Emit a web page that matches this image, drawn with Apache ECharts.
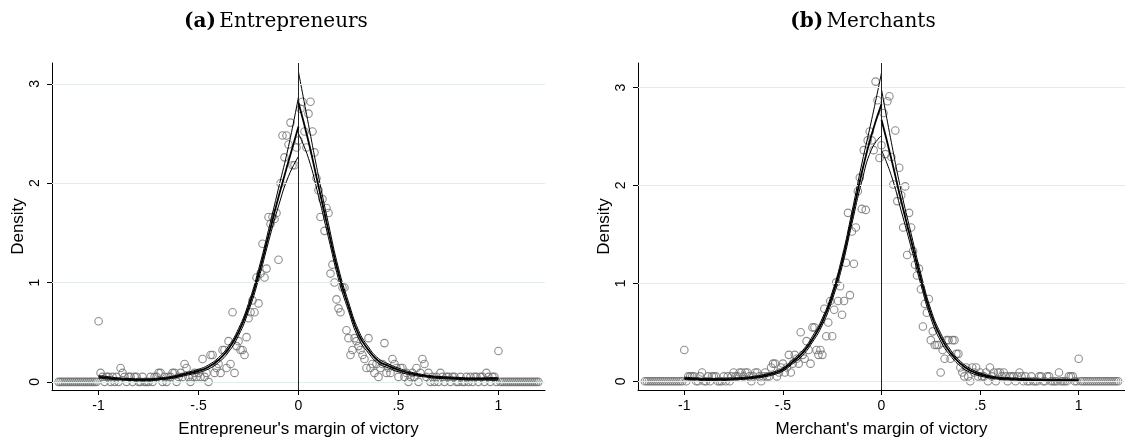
<!DOCTYPE html>
<html>
<head>
<meta charset="utf-8">
<script src="https://cdn.jsdelivr.net/npm/echarts@6/dist/echarts.min.js"></script>
<style>
html,body{margin:0;padding:0;background:#fff;}
#chart{width:1125px;height:443px;}
</style>
</head>
<body>
<div id="chart"></div>
<script>
// ---------------- DATA ----------------
var panelTitles = ['(a)', '(b)'];
var panelNames = ['Entrepreneurs', 'Merchants'];
var xAxisTitles = ["Entrepreneur's margin of victory", "Merchant's margin of victory"];
var yAxisTitle = 'Density';
var xTickValues = [-1, -0.5, 0, 0.5, 1];
var xTickLabels = ['-1', '-.5', '0', '.5', '1'];
var yTickValues = [0, 1, 2, 3];
var yTickLabels = ['0', '1', '2', '3'];

// bin centres of the histogram (circles)
var binX = [
-1.2,-1.19,-1.18,-1.17,-1.16,-1.15,-1.14,-1.13,-1.12,-1.11,
-1.1,-1.09,-1.08,-1.07,-1.06,-1.05,-1.04,-1.03,-1.02,-1.01,
-1.0,-0.99,-0.98,-0.97,-0.96,-0.95,-0.94,-0.93,-0.92,-0.91,
-0.9,-0.89,-0.88,-0.87,-0.86,-0.85,-0.84,-0.83,-0.82,-0.81,
-0.8,-0.79,-0.78,-0.77,-0.76,-0.75,-0.74,-0.73,-0.72,-0.71,
-0.7,-0.69,-0.68,-0.67,-0.66,-0.65,-0.64,-0.63,-0.62,-0.61,
-0.6,-0.59,-0.58,-0.57,-0.56,-0.55,-0.54,-0.53,-0.52,-0.51,
-0.5,-0.49,-0.48,-0.47,-0.46,-0.45,-0.44,-0.43,-0.42,-0.41,
-0.4,-0.39,-0.38,-0.37,-0.36,-0.35,-0.34,-0.33,-0.32,-0.31,
-0.3,-0.29,-0.28,-0.27,-0.26,-0.25,-0.24,-0.23,-0.22,-0.21,
-0.2,-0.19,-0.18,-0.17,-0.16,-0.15,-0.14,-0.13,-0.12,-0.11,
-0.1,-0.09,-0.08,-0.07,-0.06,-0.05,-0.04,-0.03,-0.02,-0.01,
0,0.01,0.02,0.03,0.04,0.05,0.06,0.07,0.08,0.09,
0.1,0.11,0.12,0.13,0.14,0.15,0.16,0.17,0.18,0.19,
0.2,0.21,0.22,0.23,0.24,0.25,0.26,0.27,0.28,0.29,
0.3,0.31,0.32,0.33,0.34,0.35,0.36,0.37,0.38,0.39,
0.4,0.41,0.42,0.43,0.44,0.45,0.46,0.47,0.48,0.49,
0.5,0.51,0.52,0.53,0.54,0.55,0.56,0.57,0.58,0.59,
0.6,0.61,0.62,0.63,0.64,0.65,0.66,0.67,0.68,0.69,
0.7,0.71,0.72,0.73,0.74,0.75,0.76,0.77,0.78,0.79,
0.8,0.81,0.82,0.83,0.84,0.85,0.86,0.87,0.88,0.89,
0.9,0.91,0.92,0.93,0.94,0.95,0.96,0.97,0.98,0.99,
1.0,
1.01,1.02,1.03,1.04,1.05,1.06,1.07,1.08,1.09,1.1,
1.11,1.12,1.13,1.14,1.15,1.16,1.17,1.18,1.19,1.2
];

// histogram density, panel (a) Entrepreneurs
var densEntrepreneurs = [
0,0,0,0,0,0,0,0,0,0,
0,0,0,0,0,0,0,0,0,0,
0.61,0.09,0.05,0,0.05,0.05,0,0.05,0,0.05,
0,0.14,0.09,0.05,0,0.05,0.05,0,0.05,0.05,
0,0,0.05,0,0,0,0.05,0,0.05,0.05,
0.09,0.09,0,0.05,0,0.05,0.05,0.09,0.09,0,
0.05,0.09,0.05,0.18,0.14,0.05,0,0.05,0.09,0.05,
0.09,0.05,0.23,0.05,0.09,0,0.27,0.27,0.09,0.14,
0.18,0.09,0.32,0.32,0.14,0.41,0.18,0.70,0.09,0.36,
0.41,0.32,0.32,0.27,0.45,0.64,0.70,0.82,0.70,1.05,
0.79,1.09,1.39,1.05,1.14,1.66,1.59,1.66,1.64,1.70,
1.23,2.00,2.48,2.26,2.48,2.39,2.61,2.18,2.18,2.36,
2.43,2.75,2.82,2.52,2.36,2.70,2.82,2.52,2.31,2.05,
1.93,1.66,1.84,1.52,1.75,1.70,1.09,1.18,1.00,0.83,
0.74,0.70,0.95,0.95,0.52,0.44,0.27,0.32,0.44,0.41,
0.36,0.32,0.27,0.23,0.14,0.44,0.14,0.18,0.09,0.18,
0.05,0.14,0.18,0.39,0.09,0.14,0.09,0.23,0.18,0.14,
0.05,0.14,0.14,0.05,0.09,0,0.05,0.09,0.05,0.14,
0,0.09,0.23,0.18,0.05,0.09,0,0.05,0,0.05,
0,0.09,0.05,0,0.05,0.05,0,0.05,0.05,0,
0,0.05,0,0,0.05,0,0.05,0,0.05,0.05,
0,0.05,0.05,0,0.09,0.05,0,0.05,0.05,0,
0.31,
0,0,0,0,0,0,0,0,0,0,
0,0,0,0,0,0,0,0,0,0
];

// histogram density, panel (b) Merchants
var densMerchants = [
0,0,0,0,0,0,0,0,0,0,
0,0,0,0,0,0,0,0,0,0,
0.32,0,0.05,0.05,0.05,0.05,0,0,0.05,0.09,
0,0,0.05,0,0.05,0.05,0.05,0,0,0,
0.05,0,0.05,0,0.05,0.09,0.05,0.05,0.09,0.09,
0.05,0.09,0.09,0.05,0,0.05,0.09,0.09,0.05,0,
0.05,0.09,0.05,0.05,0.14,0.18,0.18,0.05,0.09,0.14,
0.18,0.09,0.14,0.27,0.09,0.18,0.27,0.23,0.18,0.50,
0.27,0.23,0.41,0.32,0.18,0.55,0.55,0.32,0.27,0.32,
0.27,0.74,0.46,0.60,0.82,0.46,0.73,1.01,0.82,0.97,
0.68,0.82,1.21,1.72,0.88,1.53,1.20,1.57,1.94,2.08,
1.76,2.36,1.75,2.46,2.55,2.46,2.36,3.06,2.87,2.28,
2.41,2.74,2.32,2.86,2.91,2.29,2.01,2.56,1.84,2.18,
1.90,1.57,1.99,1.29,1.72,1.57,1.33,1.19,1.08,1.15,
0.94,0.56,0.79,0.70,0.84,0.42,0.51,0.37,0.37,0.37,
0.09,0.32,0.23,0.42,0.42,0.23,0.42,0.42,0.28,0.28,
0.14,0.09,0.05,0.14,0.05,0,0.14,0.09,0.14,0.05,
0.09,0.05,0.05,0.09,0,0.14,0.05,0.09,0,0.09,
0.09,0.05,0.09,0.05,0,0.05,0.05,0.05,0,0.05,
0.09,0.05,0,0.05,0,0,0.05,0,0,0,
0.05,0.05,0,0,0.05,0.05,0,0,0,0,
0.09,0,0,0,0,0.05,0.05,0.05,0,0,
0.23,
0,0,0,0,0,0,0,0,0,0,
0,0,0,0,0,0,0,0,0,0
];

// fitted density grid
var fitXLeft = [-1,-0.95,-0.9,-0.85,-0.8,-0.75,-0.7,-0.65,-0.6,-0.55,-0.5,-0.45,-0.4,-0.35,-0.3,-0.25,-0.2,-0.15,-0.1,-0.05,0];
var fitXRight = [0,0.05,0.1,0.15,0.2,0.25,0.3,0.35,0.4,0.45,0.5,0.55,0.6,0.65,0.7,0.75,0.8,0.85,0.9,0.95,1];

// panel (a)
var fitA_leftEst = [0.05,0.04,0.03,0.025,0.02,0.02,0.03,0.04,0.06,0.085,0.11,0.15,0.22,0.33,0.50,0.75,1.08,1.47,1.86,2.22,2.57];
var fitA_leftHi  = [0.065,0.052,0.04,0.035,0.03,0.03,0.04,0.05,0.072,0.099,0.126,0.17,0.245,0.36,0.535,0.79,1.13,1.53,1.95,2.37,2.87];
var fitA_leftLo  = [0.035,0.028,0.02,0.015,0.01,0.01,0.02,0.03,0.048,0.071,0.094,0.13,0.195,0.30,0.465,0.71,1.03,1.41,1.77,2.07,2.27];
var fitA_rightEst = [2.81,2.42,1.97,1.52,1.09,0.76,0.48,0.32,0.21,0.16,0.12,0.09,0.07,0.055,0.045,0.04,0.035,0.03,0.03,0.03,0.03];
var fitA_rightHi  = [3.12,2.59,2.07,1.59,1.145,0.805,0.52,0.35,0.235,0.18,0.138,0.105,0.082,0.065,0.055,0.05,0.045,0.04,0.04,0.042,0.045];
var fitA_rightLo  = [2.50,2.25,1.87,1.45,1.035,0.715,0.44,0.29,0.185,0.14,0.102,0.075,0.058,0.045,0.035,0.03,0.025,0.02,0.02,0.018,0.015];

// panel (b)
var fitB_leftEst = [0.03,0.025,0.02,0.02,0.02,0.025,0.03,0.04,0.055,0.08,0.12,0.20,0.29,0.43,0.61,0.87,1.22,1.67,2.13,2.52,2.83];
var fitB_leftHi  = [0.042,0.035,0.03,0.03,0.03,0.035,0.04,0.05,0.067,0.094,0.136,0.22,0.315,0.46,0.645,0.91,1.27,1.73,2.22,2.67,3.15];
var fitB_leftLo  = [0.018,0.015,0.01,0.01,0.01,0.015,0.02,0.03,0.043,0.066,0.104,0.18,0.265,0.40,0.575,0.83,1.17,1.61,2.04,2.37,2.51];
var fitB_rightEst = [2.67,2.27,1.84,1.44,1.04,0.69,0.45,0.29,0.18,0.11,0.07,0.045,0.03,0.025,0.02,0.015,0.012,0.01,0.01,0.01,0.01];
var fitB_rightHi  = [2.98,2.44,1.94,1.51,1.095,0.735,0.49,0.32,0.205,0.13,0.085,0.057,0.04,0.035,0.03,0.025,0.022,0.02,0.02,0.02,0.022];
var fitB_rightLo  = [2.36,2.10,1.74,1.37,0.985,0.645,0.41,0.26,0.155,0.09,0.055,0.033,0.02,0.015,0.01,0.005,0.002,0,0,0,0];

// ---------------- CHART ----------------
function pairs(xs, ys) { return xs.map(function (x, i) { return [x, ys[i]]; }); }
var SANS = 'Liberation Sans, Arial, Helvetica, sans-serif';
var SERIF = 'DejaVu Serif, serif';

function xLabelFmt(v) {
  for (var i = 0; i < xTickValues.length; i++) if (Math.abs(v - xTickValues[i]) < 1e-9) return xTickLabels[i];
  return '';
}
function yLabelFmt(v) {
  for (var i = 0; i < yTickValues.length; i++) if (Math.abs(v - yTickValues[i]) < 1e-9) return yTickLabels[i];
  return '';
}

var grids = [
  { left: 52, top: 63, width: 493, height: 339 },
  { left: 638, top: 63, width: 494, height: 339 }
];
var xRanges = [[-1.233, 1.233], [-1.235, 1.235]];
var yRanges = [[-0.082, 3.21], [-0.089, 3.25]];

function makeX(i) {
  return {
    gridIndex: i, type: 'value', min: xRanges[i][0], max: xRanges[i][1],
    axisLine: { show: true, onZero: false, lineStyle: { color: '#000', width: 1 } },
    axisTick: { show: true, customValues: xTickValues, length: 5, lineStyle: { color: '#000', width: 1 } },
    axisLabel: { customValues: xTickValues, formatter: xLabelFmt, fontSize: 14, fontFamily: SANS, color: '#000', margin: 9 },
    splitLine: { show: false },
    name: xAxisTitles[i], nameLocation: 'middle', nameGap: 31,
    nameTextStyle: { fontSize: 17, fontFamily: SANS, color: '#000' }
  };
}
function makeY(i) {
  return {
    gridIndex: i, type: 'value', min: yRanges[i][0], max: yRanges[i][1],
    axisLine: { show: true, onZero: false, lineStyle: { color: '#000', width: 1 } },
    axisTick: { show: true, customValues: yTickValues, length: 5, lineStyle: { color: '#000', width: 1 } },
    axisLabel: { customValues: yTickValues, formatter: yLabelFmt, rotate: 90, fontSize: 14, fontFamily: SANS, color: '#000', margin: 10 },
    splitLine: { show: false },
    name: yAxisTitle, nameLocation: 'middle', nameGap: 20,
    nameTextStyle: { fontSize: 17, fontFamily: SANS, color: '#000' }
  };
}

function lineSeries(i, xs, ys, w, z) {
  return {
    type: 'line', xAxisIndex: i, yAxisIndex: i, data: pairs(xs, ys),
    showSymbol: false, symbol: 'none', smooth: 0.5,
    lineStyle: { color: '#000', width: w }, z: z, silent: true
  };
}

function panelSeries(i, dens, fits) {
  var s = [];
  s.push({
    type: 'scatter', xAxisIndex: i, yAxisIndex: i, data: pairs(binX, dens),
    symbol: 'circle', symbolSize: 7.5,
    itemStyle: { color: 'rgba(0,0,0,0)', borderColor: '#707070', borderWidth: 1.1 },
    z: 3, silent: true,
    markLine: {
      silent: true, symbol: ['none', 'none'], label: { show: false }, animation: false,
      lineStyle: { color: '#e3eded', width: 1, type: 'solid' },
      data: yTickValues.map(function (v) { return { yAxis: v }; })
    }
  });
  s.push({
    type: 'line', xAxisIndex: i, yAxisIndex: i, data: [], z: 6, silent: true,
    markLine: {
      silent: true, symbol: ['none', 'none'], label: { show: false }, animation: false,
      lineStyle: { color: '#222', width: 1, type: 'solid' },
      data: [{ xAxis: 0 }]
    }
  });
  s.push(lineSeries(i, fitXLeft, fits[0], 1, 4));
  s.push(lineSeries(i, fitXLeft, fits[1], 1.8, 5));
  s.push(lineSeries(i, fitXLeft, fits[2], 1, 4));
  s.push(lineSeries(i, fitXRight, fits[3], 1, 4));
  s.push(lineSeries(i, fitXRight, fits[4], 1.8, 5));
  s.push(lineSeries(i, fitXRight, fits[5], 1, 4));
  return s;
}

var series = []
  .concat(panelSeries(0, densEntrepreneurs, [fitA_leftHi, fitA_leftEst, fitA_leftLo, fitA_rightHi, fitA_rightEst, fitA_rightLo]))
  .concat(panelSeries(1, densMerchants, [fitB_leftHi, fitB_leftEst, fitB_leftLo, fitB_rightHi, fitB_rightEst, fitB_rightLo]));

var titleRich = {
  b: { fontFamily: SERIF, fontWeight: 'bold', fontSize: 20, fill: '#000', color: '#000' },
  r: { fontFamily: SERIF, fontSize: 20, fill: '#000', color: '#000' }
};
var titleX = [276, 863];

var chart = echarts.init(document.getElementById('chart'), null, { renderer: 'canvas' });
chart.setOption({
  animation: false,
  backgroundColor: '#fff',
  grid: grids,
  xAxis: [makeX(0), makeX(1)],
  yAxis: [makeY(0), makeY(1)],
  series: series,
  graphic: [0, 1].map(function (i) {
    return {
      type: 'text', x: titleX[i], y: 22, silent: true,
      style: {
        text: '{b|' + panelTitles[i] + '} {r|' + panelNames[i] + '}',
        rich: titleRich, align: 'center', verticalAlign: 'middle'
      }
    };
  })
});
</script>
</body>
</html>
